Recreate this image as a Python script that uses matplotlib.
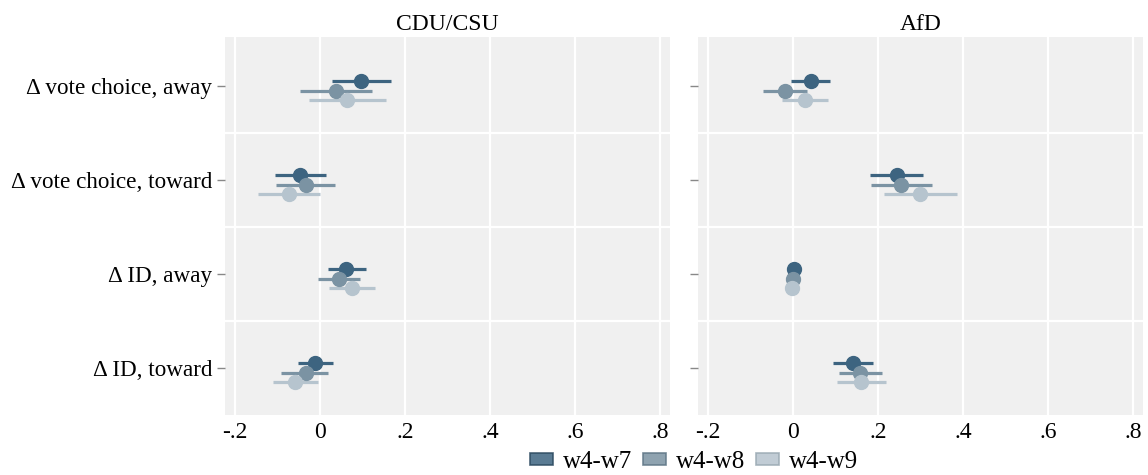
import matplotlib
matplotlib.use("Agg")
import matplotlib.pyplot as plt
from matplotlib.patches import Patch
import numpy as np

plt.rcParams['font.family'] = ['Liberation Serif', 'DejaVu Serif']

categories = ["Δ vote choice, away", "Δ vote choice, toward", "Δ ID, away", "Δ ID, toward"]
panels = ["CDU/CSU", "AfD"]
series = ["w4-w7", "w4-w8", "w4-w9"]
colors = ["#3d6480", "#7b93a3", "#b6c4ce"]
edge_colors = ["#2c4a60", "#5f7686", "#9aa9b3"]

# estimates [panel][series][category]
est = {
    "CDU/CSU": [
        [0.096, -0.047, 0.062, -0.012],
        [0.037, -0.034, 0.044, -0.034],
        [0.064, -0.074, 0.076, -0.059],
    ],
    "AfD": [
        [0.041, 0.244, 0.002, 0.142],
        [-0.018, 0.255, 0.000, 0.157],
        [0.028, 0.298, -0.003, 0.160],
    ],
}
lo = {
    "CDU/CSU": [
        [0.027, -0.107, 0.018, -0.053],
        [-0.048, -0.105, -0.006, -0.091],
        [-0.025, -0.147, 0.022, -0.112],
    ],
    "AfD": [
        [-0.005, 0.182, 0.000, 0.094],
        [-0.071, 0.183, -0.002, 0.109],
        [-0.026, 0.213, -0.005, 0.104],
    ],
}
hi = {
    "CDU/CSU": [
        [0.166, 0.015, 0.109, 0.030],
        [0.123, 0.036, 0.095, 0.019],
        [0.154, -0.001, 0.129, -0.005],
    ],
    "AfD": [
        [0.086, 0.306, 0.004, 0.189],
        [0.033, 0.327, 0.002, 0.209],
        [0.082, 0.386, -0.001, 0.218],
    ],
}
xticks = [-0.2, 0, 0.2, 0.4, 0.6, 0.8]
xticklabels = ["-.2", "0", ".2", ".4", ".6", ".8"]

offsets = [-0.05, 0.05, 0.15]

W, H = 1148, 475
fig = plt.figure(figsize=(W / 100, H / 100), dpi=100)
axes_px = [(225, 37, 670, 415), (698, 37, 1143, 415)]
axes = []
for (x0, y0, x1, y1) in axes_px:
    ax = fig.add_axes([x0 / W, 1 - y1 / H, (x1 - x0) / W, (y1 - y0) / H])
    axes.append(ax)

ypos = np.arange(1, len(categories) + 1)
for k, (ax, panel) in enumerate(zip(axes, panels)):
    ax.set_facecolor("#f0f0f0")
    for xt in xticks:
        ax.axvline(xt, color="white", lw=1.6, zorder=1)
    for yb in [1.5, 2.5, 3.5]:
        ax.axhline(yb, color="white", lw=1.6, zorder=1)
    for s in range(len(series)):
        y = ypos + offsets[s]
        ax.hlines(y, lo[panel][s], hi[panel][s], color=colors[s], lw=2.3, zorder=3)
        ax.plot(est[panel][s], y, "o", color=colors[s], ms=10, zorder=4, mec=colors[s])
    ax.set_xlim(-0.224, 0.824)
    ax.set_ylim(4.5, 0.48)
    ax.set_xticks(xticks)
    ax.set_xticklabels(xticklabels, fontsize=17)
    ax.set_yticks(ypos)
    if k == 0:
        ax.set_yticklabels(categories, fontsize=16.7)
    else:
        ax.set_yticklabels([])
    ax.tick_params(axis="x", length=0, pad=5)
    ax.tick_params(axis="y", length=6, color="#888888", width=1, pad=3)
    for sp in ax.spines.values():
        sp.set_visible(False)
    ax.set_title(panel, fontsize=17, pad=5)

handles = [Patch(facecolor=colors[i], edgecolor=edge_colors[i], lw=1.2, label=series[i], alpha=0.85)
           for i in range(len(series))]
fig.legend(handles=handles, loc="center", bbox_to_anchor=(694 / W, 1 - 462 / H), ncol=3,
           frameon=False, fontsize=18, handlelength=0.95, handleheight=0.33,
           columnspacing=0.4, handletextpad=0.4, borderaxespad=0)

fig.savefig("out.png", dpi=100)
